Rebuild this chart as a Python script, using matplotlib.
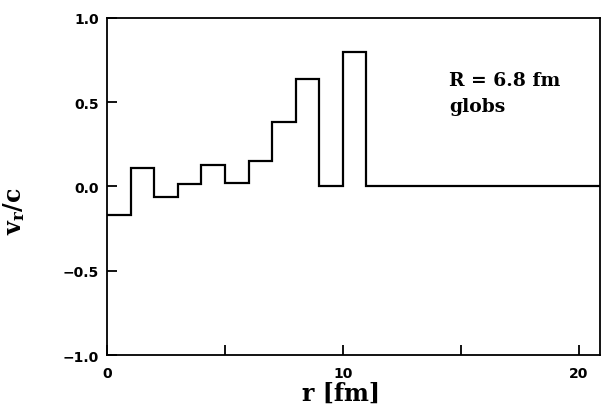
import numpy as np
import matplotlib
matplotlib.use('Agg')
import matplotlib.pyplot as plt

# bin edges in r [fm] and the v_r/c value in each bin
r_edges = [0, 1, 2, 3, 4, 5, 6, 7, 8, 9, 10, 11, 21]
v_over_c = [-0.17, 0.11, -0.06, 0.015, 0.13, 0.02, 0.15, 0.38, 0.64, 0.0, 0.80, 0.0]

x_ticks = [0, 5, 10, 15, 20]
x_ticklabels = ['0', '', '10', '', '20']
y_ticks = [-1.0, -0.5, 0.0, 0.5, 1.0]
y_ticklabels = ['\u22121.0', '\u22120.5', '0.0', '0.5', '1.0']

plt.rcParams['font.family'] = ['DejaVu Serif']
plt.rcParams['mathtext.fontset'] = 'dejavuserif'

fig = plt.figure(figsize=(6.02, 4.10), dpi=100)
ax = fig.add_axes([0.1777, 0.1317, 0.8190, 0.822])

ax.stairs(v_over_c, r_edges, color='black', linewidth=1.6, baseline=None)

ax.set_xlim(0, 20.9)
ax.set_ylim(-1, 1)
ax.set_xticks(x_ticks)
ax.set_xticklabels(x_ticklabels, fontweight='bold', fontsize=10, family='DejaVu Sans')
ax.set_yticks(y_ticks)
ax.set_yticklabels(y_ticklabels, fontweight='bold', fontsize=10, family='DejaVu Sans')
ax.tick_params(direction='in', length=7, width=1.3, pad=6)
ax.tick_params(axis='x', pad=8)

for s in ax.spines.values():
    s.set_linewidth(1.3)

ax.set_xlabel('r [fm]', fontsize=17, fontweight='bold')
ax.xaxis.set_label_coords(0.474, -0.075)
ax.set_ylabel(r'$\mathbf{v_r/c}$', fontsize=17)
ax.yaxis.set_label_coords(-0.163, 0.43)

ax.text(14.5, 0.63, 'R = 6.8 fm', fontsize=13.5, fontweight='bold', va='center')
ax.text(14.5, 0.475, 'globs', fontsize=13.5, fontweight='bold', va='center')

fig.savefig('out.png', dpi=100)
